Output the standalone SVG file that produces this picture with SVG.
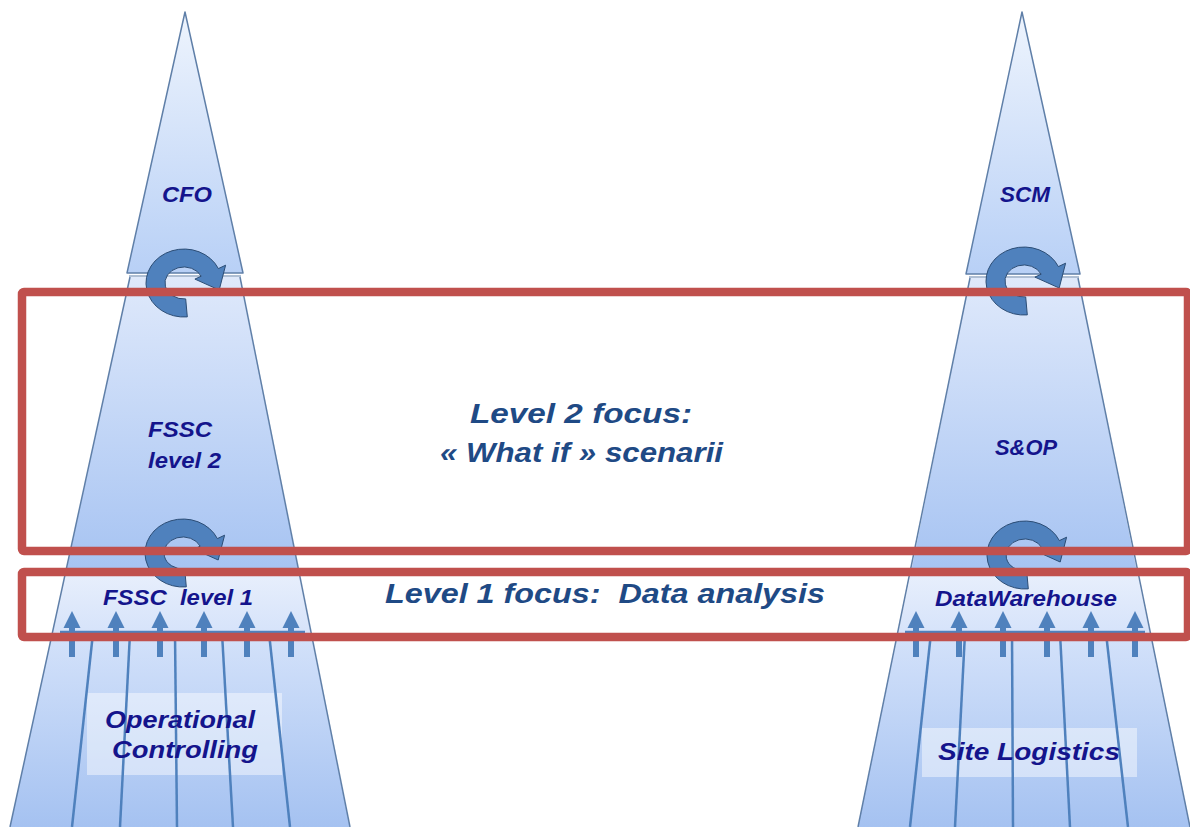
<svg xmlns="http://www.w3.org/2000/svg" width="1190" height="827" viewBox="0 0 1190 827">
<style>
.edge{fill:none;stroke:#5f7fa8;stroke-width:1.5;stroke-linejoin:round}
.lbl{font-family:"Liberation Sans",Arial,sans-serif;font-weight:bold;font-style:italic;fill:#14148c;white-space:pre}
.focus{font-family:"Liberation Sans",Arial,sans-serif;font-weight:bold;font-style:italic;fill:#1f4a85;font-size:28px;white-space:pre}
.red{fill:none;stroke:#c0504d;stroke-width:8.5}
.flow{stroke:#4f81bd;stroke-width:2.5;fill:none}
.arrow{fill:#4f81bd}
.cyc{fill:#4f81bd;stroke:#2c4d75;stroke-width:1}
.box{fill:#ffffff;fill-opacity:0.45}
</style>
<defs>
<linearGradient id="gTri" x1="0" y1="0" x2="0" y2="1"><stop offset="0" stop-color="#eef4fd"/><stop offset="1" stop-color="#b8d0f6"/></linearGradient>
<linearGradient id="gMid" x1="0" y1="0" x2="0" y2="1"><stop offset="0" stop-color="#dfe9fb"/><stop offset="1" stop-color="#a6c3f2"/></linearGradient>
<linearGradient id="gBand" x1="0" y1="0" x2="0" y2="1"><stop offset="0" stop-color="#e8effc"/><stop offset="1" stop-color="#d6e3fa"/></linearGradient>
<linearGradient id="gBot" x1="0" y1="0" x2="0" y2="1"><stop offset="0" stop-color="#d4e2fa"/><stop offset="1" stop-color="#a5c2f1"/></linearGradient>
<path id="cycle" d="M3.3,33.9 A38,34 0 1 1 34.4,-14.4 L41.6,-17.8 L35.2,7 L10.9,-3.9 L17.2,-6.8 A19,16 0 1 0 1.7,15.9 Z"/>
<path id="up" d="M-3,46 L-3,17 L-8.5,17 L0,0 L8.5,17 L3,17 L3,46 Z"/>
</defs>

<g id="tower-left">
  <polygon points="185,12 243,273 127,273" fill="url(#gTri)"/>
  <polygon points="185,12 243,273 127,273" class="edge"/>
  <polygon points="130,277 240,277 299,572 66,572" fill="url(#gMid)"/>
  <polygon points="66,572 299,572 311,633 52,633" fill="url(#gBand)"/>
  <polygon points="52,633 311,633 350,827 10,827" fill="url(#gBot)"/>
  <polyline points="130,277 10,827" class="edge"/>
  <polyline points="240,277 350,827" class="edge"/>
  <line x1="129" y1="276" x2="241" y2="276" stroke="#5f7fa8" stroke-width="1"/>
</g>

<g id="tower-right">
  <polygon points="1022,12 1080,274 966,274" fill="url(#gTri)"/>
  <polygon points="1022,12 1080,274 966,274" class="edge"/>
  <polygon points="970,278 1078,278 1137,572 911,572" fill="url(#gMid)"/>
  <polygon points="911,572 1137,572 1150,633 898,633" fill="url(#gBand)"/>
  <polygon points="898,633 1150,633 1190,827 858,827" fill="url(#gBot)"/>
  <polyline points="970,278 858,827" class="edge"/>
  <polyline points="1078,278 1190,827" class="edge"/>
  <line x1="969" y1="277" x2="1079" y2="277" stroke="#5f7fa8" stroke-width="1"/>
</g>

<g id="label-boxes">
  <rect class="box" x="87" y="693" width="195" height="82"/>
  <rect class="box" x="922" y="728" width="215" height="49"/>
</g>

<g id="connectors">
  <line class="flow" x1="60" y1="632" x2="305" y2="632"/>
  <line class="flow" x1="93" y1="633" x2="72" y2="827"/>
  <line class="flow" x1="130" y1="633" x2="120" y2="827"/>
  <line class="flow" x1="175" y1="633" x2="177" y2="827"/>
  <line class="flow" x1="222" y1="633" x2="233" y2="827"/>
  <line class="flow" x1="269" y1="633" x2="290" y2="827"/>
  <use href="#up" class="arrow" x="72" y="611"/>
  <use href="#up" class="arrow" x="116" y="611"/>
  <use href="#up" class="arrow" x="160" y="611"/>
  <use href="#up" class="arrow" x="204" y="611"/>
  <use href="#up" class="arrow" x="247" y="611"/>
  <use href="#up" class="arrow" x="291" y="611"/>

  <line class="flow" x1="905" y1="632" x2="1145" y2="632"/>
  <line class="flow" x1="931" y1="633" x2="910" y2="827"/>
  <line class="flow" x1="965" y1="633" x2="955" y2="827"/>
  <line class="flow" x1="1012" y1="633" x2="1013" y2="827"/>
  <line class="flow" x1="1060" y1="633" x2="1070" y2="827"/>
  <line class="flow" x1="1106" y1="633" x2="1128" y2="827"/>
  <use href="#up" class="arrow" x="916" y="611"/>
  <use href="#up" class="arrow" x="959" y="611"/>
  <use href="#up" class="arrow" x="1003" y="611"/>
  <use href="#up" class="arrow" x="1047" y="611"/>
  <use href="#up" class="arrow" x="1091" y="611"/>
  <use href="#up" class="arrow" x="1135" y="611"/>

  <use href="#cycle" class="cyc" x="184" y="283"/>
  <use href="#cycle" class="cyc" x="183" y="553"/>
  <use href="#cycle" class="cyc" x="1024" y="281"/>
  <use href="#cycle" class="cyc" x="1025" y="555"/>
</g>

<g id="labels">
  <text class="lbl" font-size="22" x="162" y="202" textLength="50" lengthAdjust="spacingAndGlyphs">CFO</text>
  <text class="lbl" font-size="22" x="1000" y="202" textLength="50" lengthAdjust="spacingAndGlyphs">SCM</text>
  <text class="lbl" font-size="22" x="148" y="437" textLength="64" lengthAdjust="spacingAndGlyphs">FSSC</text>
  <text class="lbl" font-size="22" x="148" y="468" textLength="73" lengthAdjust="spacingAndGlyphs">level 2</text>
  <text class="lbl" font-size="22" x="995" y="455" textLength="62" lengthAdjust="spacingAndGlyphs">S&amp;OP</text>
  <text class="lbl" font-size="22" x="103" y="605" textLength="150" lengthAdjust="spacingAndGlyphs">FSSC  level 1</text>
  <text class="lbl" font-size="22" x="935" y="606" textLength="182" lengthAdjust="spacingAndGlyphs">DataWarehouse</text>
  <text class="lbl" font-size="24" x="105" y="728" textLength="150" lengthAdjust="spacingAndGlyphs">Operational</text>
  <text class="lbl" font-size="24" x="112" y="758" textLength="146" lengthAdjust="spacingAndGlyphs">Controlling</text>
  <text class="lbl" font-size="24" x="938" y="760" textLength="182" lengthAdjust="spacingAndGlyphs">Site Logistics</text>
  <text class="focus" x="470" y="423" textLength="222" lengthAdjust="spacingAndGlyphs">Level 2 focus:</text>
  <text class="focus" x="440" y="462" textLength="283" lengthAdjust="spacingAndGlyphs">« What if » scenarii</text>
  <text class="focus" x="385" y="603" textLength="440" lengthAdjust="spacingAndGlyphs">Level 1 focus:  Data analysis</text>
</g>

<g id="focus-frames">
  <rect id="level2-frame" class="red" x="22" y="292" width="1166" height="259" rx="2"/>
  <rect id="level1-frame" class="red" x="22" y="572" width="1166" height="65" rx="2"/>
</g>
</svg>
